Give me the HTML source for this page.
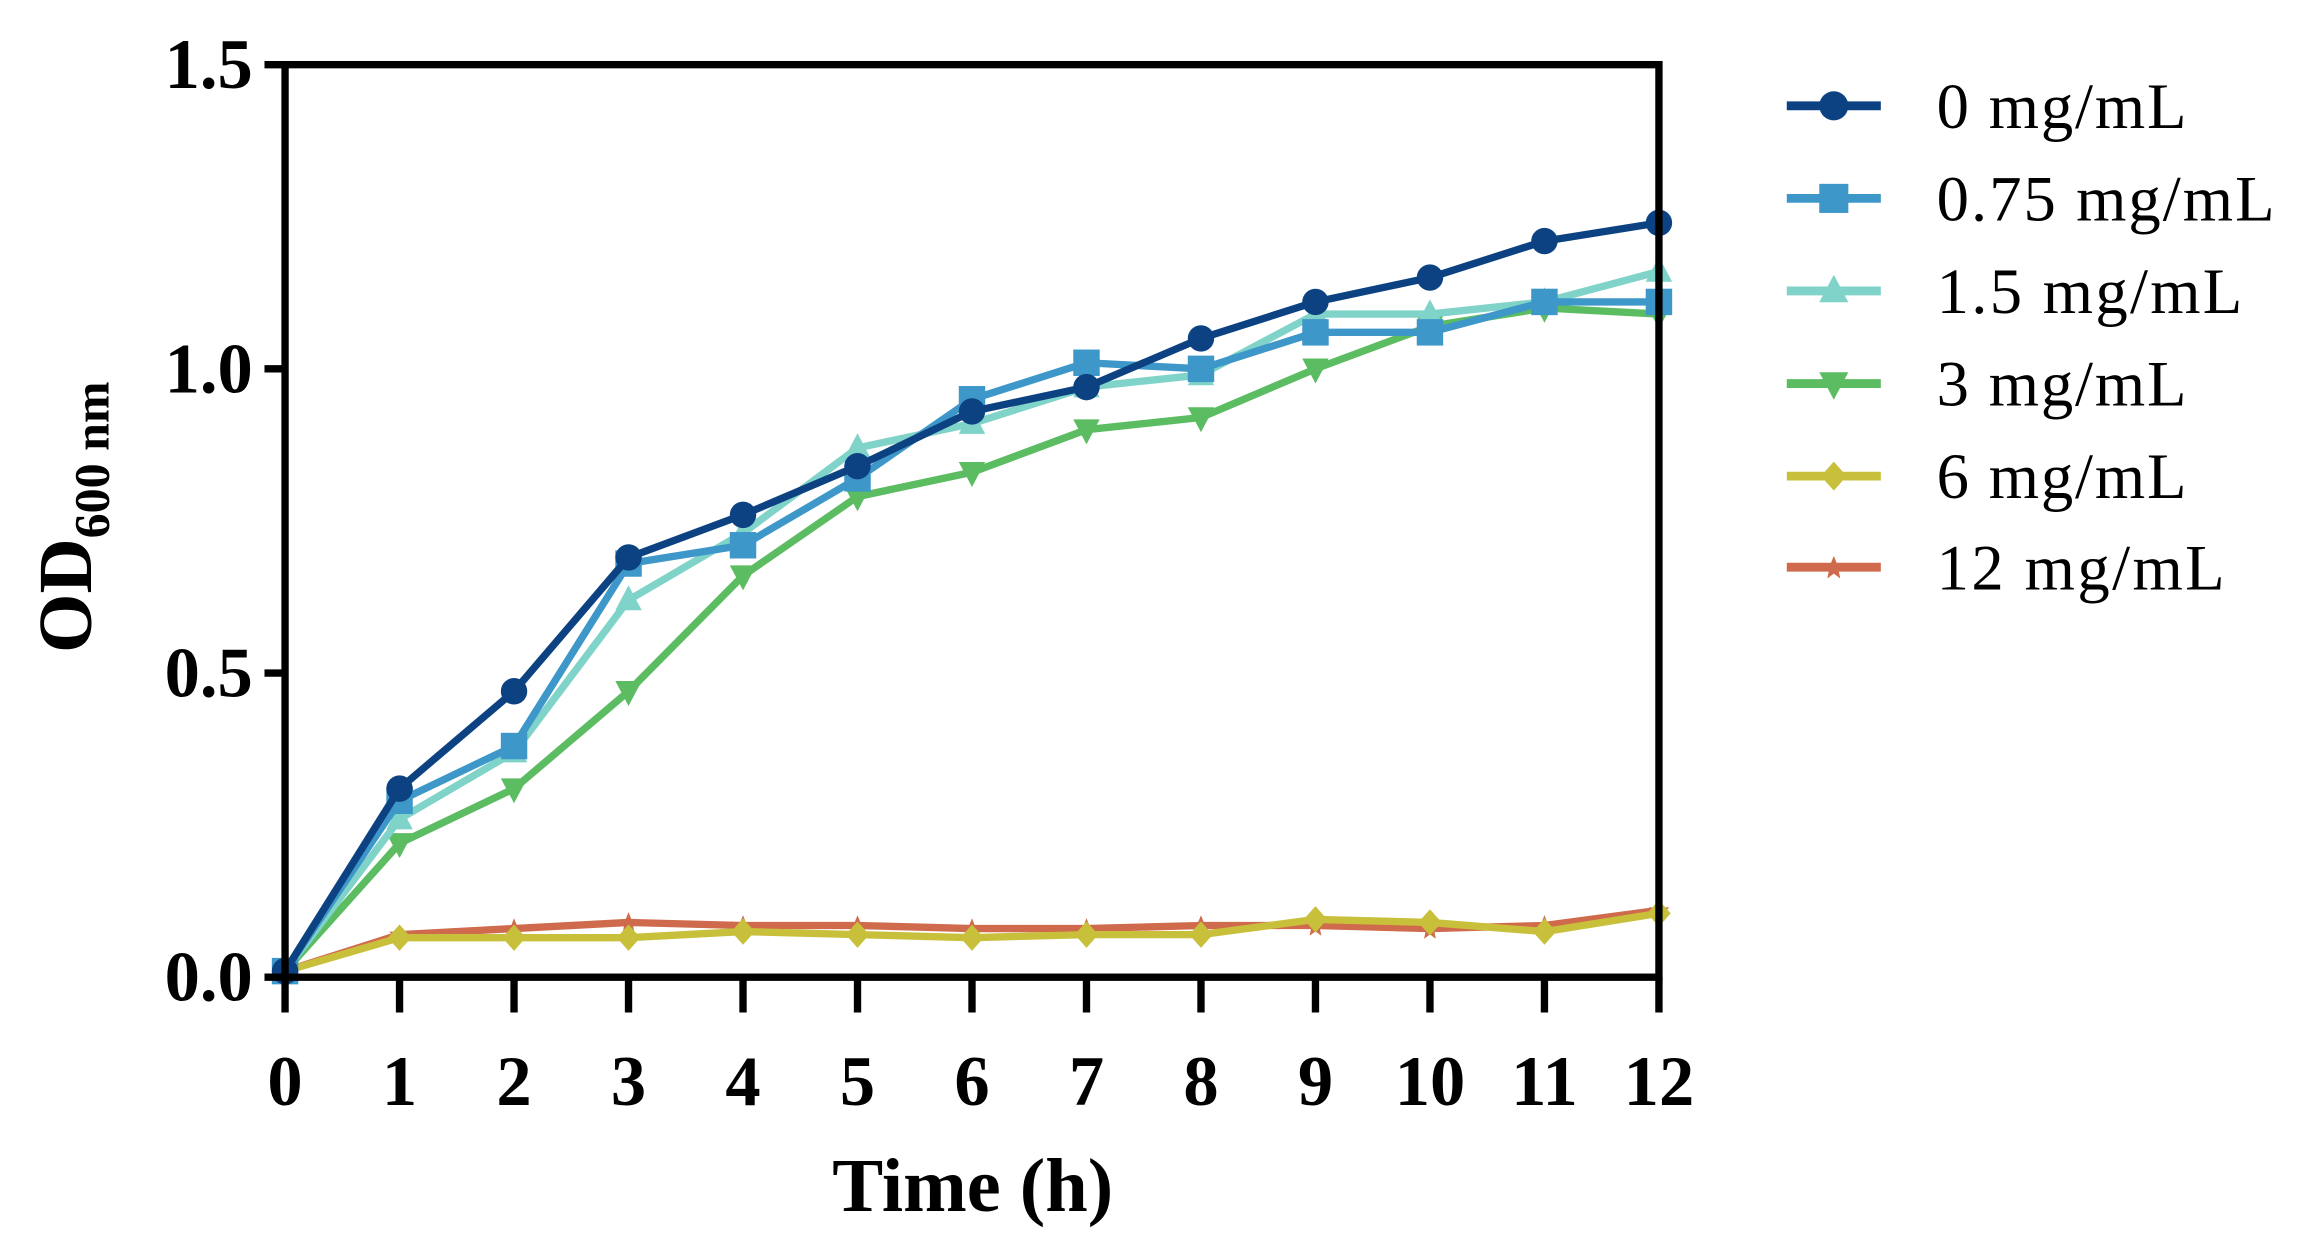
<!DOCTYPE html>
<html><head><meta charset="utf-8"><style>html,body{margin:0;padding:0;background:#fff;}svg{display:block}</style></head>
<body>
<svg id="chart" width="2304" height="1252" viewBox="0 0 1568 852" preserveAspectRatio="none" xmlns="http://www.w3.org/2000/svg" font-family="'Liberation Serif', serif">
</svg>
<script>
const times = [0,1,2,3,4,5,6,7,8,9,10,11,12];
const s0 = [0.01,0.31,0.47,0.69,0.76,0.84,0.93,0.97,1.05,1.11,1.15,1.21,1.24];
const s075 = [0.01,0.29,0.38,0.68,0.71,0.82,0.95,1.01,1.00,1.06,1.06,1.11,1.11];
const s15 = [0.01,0.26,0.37,0.62,0.73,0.87,0.91,0.97,0.99,1.09,1.09,1.11,1.16];
const s3 = [0.01,0.22,0.31,0.47,0.66,0.79,0.83,0.90,0.92,1.00,1.07,1.10,1.09];
const s6 = [0.01,0.065,0.065,0.065,0.075,0.07,0.065,0.07,0.07,0.095,0.09,0.075,0.105];
const s12 = [0.01,0.07,0.08,0.09,0.085,0.085,0.08,0.08,0.085,0.085,0.08,0.085,0.11];
const seriesNames = ['0 mg/mL','0.75 mg/mL','1.5 mg/mL','3 mg/mL','6 mg/mL','12 mg/mL'];
const yTicks = [0,0.5,1.0,1.5];
const yTickLabels = ['0.0','0.5','1.0','1.5'];
const xTickLabels = ['0','1','2','3','4','5','6','7','8','9','10','11','12'];

const NS='http://www.w3.org/2000/svg';
const svg=document.getElementById('chart');
const L=194,R=1129,T=44,B=665;
const xs=t=>L+(t-0)/(12-0)*(R-L);
const ys=v=>B-(v-0)/(1.5-0)*(B-T);
function mk(tag,attrs,parent){const e=document.createElementNS(NS,tag);for(const k in attrs)e.setAttribute(k,attrs[k]);(parent||svg).appendChild(e);return e;}

const data=[s0,s075,s15,s3,s6,s12];
const colors=['#0d4282','#3e97c9','#7fd3c8','#5cbc62','#c8c03a','#cf6a4c'];
const shapes=['circle','square','triangle','tridown','diamond','star'];
function marker(shape,x,y,c,g,sz){
  let e;
  if(shape==='circle') e=mk('circle',{cx:x,cy:y,r:9*sz,fill:c},g);
  else if(shape==='square') e=mk('rect',{x:x-9*sz,y:y-9*sz,width:18*sz,height:18*sz,fill:c},g);
  else if(shape==='triangle') e=mk('polygon',{points:`${x},${y-10*sz} ${x+9*sz},${y+7*sz} ${x-9*sz},${y+7*sz}`,fill:c},g);
  else if(shape==='tridown') e=mk('polygon',{points:`${x},${y+10*sz} ${x+9*sz},${y-7*sz} ${x-9*sz},${y-7*sz}`,fill:c},g);
  else if(shape==='diamond') e=mk('polygon',{points:`${x},${y-9*sz} ${x+8*sz},${y} ${x},${y+9*sz} ${x-8*sz},${y}`,fill:c},g);
  else e=mk('polygon',{points:`${x},${y-7*sz} ${x+2*sz},${y-2*sz} ${x+7*sz},${y-2*sz} ${x+3*sz},${y+2*sz} ${x+4*sz},${y+7*sz} ${x},${y+4*sz} ${x-4*sz},${y+7*sz} ${x-3*sz},${y+2*sz} ${x-7*sz},${y-2*sz} ${x-2*sz},${y-2*sz}`,fill:c},g);
  return e;
}
const order=[5,4,3,2,1,0];
order.forEach(i=>{
  const g=mk('g',{});
  
  
  const pts=data[i].map((v,j)=>xs(times[j])+','+ys(v)).join(' ');
  mk('polyline',{points:pts,fill:'none',stroke:colors[i],'stroke-width':5,'stroke-linejoin':'round'},g);
  data[i].forEach((v,j)=>{
    const m=marker(shapes[i],xs(times[j]),ys(v),colors[i],g,1);
    
    
  });
});
const frame=mk('rect',{x:L,y:T,width:R-L,height:B-T,fill:'none',stroke:'#000','stroke-width':5});


yTicks.forEach((v,i)=>{
  mk('line',{x1:L-14,x2:L,y1:ys(v),y2:ys(v),stroke:'#000','stroke-width':5});
  const t=mk('text',{x:L-22,y:ys(v)+16,'text-anchor':'end','font-size':48,'font-weight':'bold'});
  t.textContent=yTickLabels[i];
  
  
});
times.forEach((tv,i)=>{
  mk('line',{x1:xs(tv),x2:xs(tv),y1:B,y2:B+24,stroke:'#000','stroke-width':5});
  const t=mk('text',{x:xs(tv),y:752,'text-anchor':'middle','font-size':48,'font-weight':'bold'});
  t.textContent=xTickLabels[i];
  
  
});
const xt=mk('text',{x:662,y:824,'text-anchor':'middle','font-size':52,'font-weight':'bold'});
xt.textContent='Time (h)';


const yt=mk('text',{x:0,y:0,transform:'translate(62,352) rotate(-90)','text-anchor':'middle','font-size':52,'font-weight':'bold'});
yt.innerHTML='OD<tspan font-size="34" dy="12">600 nm</tspan>';


const legendY=[72,135,198,261,324,386];
seriesNames.forEach((n,i)=>{
  const g=mk('g',{});
  
  
  mk('line',{x1:1216,x2:1280,y1:legendY[i],y2:legendY[i],stroke:colors[i],'stroke-width':6},g);
  marker(shapes[i],1248,legendY[i],colors[i],g,1.1);
  const t=mk('text',{x:1318,y:legendY[i]+15,'font-size':44},g);
  t.setAttribute('textLength', String([170,230,208,170,170,196][i]));
  t.textContent=n;
});
</script>
</body></html>
